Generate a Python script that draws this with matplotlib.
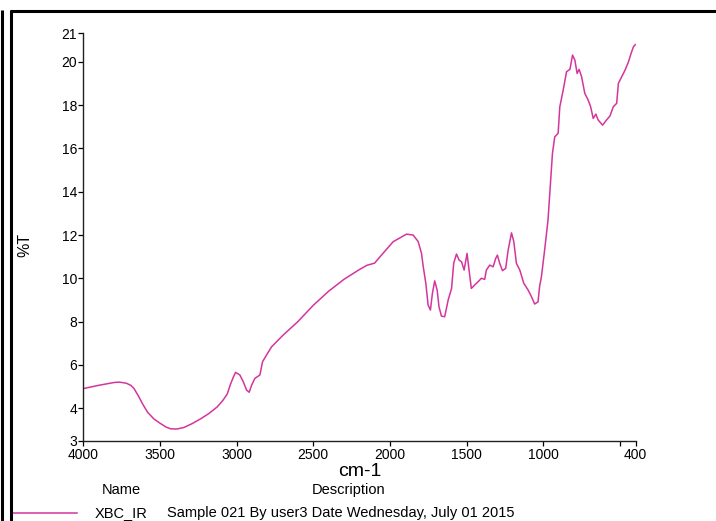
import matplotlib as mpl
mpl.use('Agg')
import matplotlib.pyplot as plt
from matplotlib.lines import Line2D

plt.rcParams['font.family'] = ['Liberation Sans', 'DejaVu Sans']

# IR spectrum, wavenumber (cm-1) vs %T
wavenumber = [4000, 3900, 3800, 3767, 3720, 3690, 3669, 3640, 3610, 3580, 3540, 3500,
              3460, 3430, 3390, 3344, 3290, 3235, 3180, 3127, 3090, 3061, 3040, 3020,
              3007, 2979, 2957, 2935, 2918, 2902, 2881, 2848, 2831,
              2805, 2772, 2729, 2700, 2600, 2500, 2400, 2300, 2200, 2150, 2100, 2064,
              1979, 1892, 1849, 1816, 1794, 1784, 1766, 1751, 1736, 1723, 1708, 1692,
              1680, 1664, 1643, 1620, 1598, 1584, 1566, 1549, 1533, 1516, 1497, 1484,
              1469, 1447, 1425, 1403, 1382, 1371, 1349, 1327, 1310, 1299, 1284, 1266,
              1245, 1229, 1207, 1192, 1175, 1153, 1127, 1099, 1077, 1056, 1034, 1024,
              1012, 991, 969, 953, 940, 925, 903, 892, 870, 848, 826, 809, 794, 779,
              766, 750, 729, 707, 691, 674, 657, 642, 613, 587, 565, 543, 521, 510,
              488, 466, 444, 427, 412, 400]
transmittance = [4.9, 5.05, 5.18, 5.2, 5.15, 5.05, 4.9, 4.55, 4.15, 3.8, 3.5, 3.3,
                 3.12, 3.04, 3.03, 3.1, 3.28, 3.5, 3.75, 4.05, 4.35, 4.65, 5.1, 5.45,
                 5.65, 5.53, 5.22, 4.83, 4.73, 5.06, 5.37, 5.53, 6.14,
                 6.45, 6.83, 7.14, 7.35, 8.0, 8.75, 9.4, 9.95, 10.4, 10.6, 10.7, 11.0,
                 11.69, 12.04, 12.0, 11.7, 11.15, 10.6, 9.77, 8.76, 8.53, 9.3, 9.88, 9.45,
                 8.68, 8.25, 8.22, 9.0, 9.53, 10.7, 11.12, 10.84, 10.76, 10.38, 11.15, 10.38,
                 9.53, 9.69, 9.84, 10.0, 9.95, 10.38, 10.61, 10.53, 10.92, 11.07, 10.69, 10.35,
                 10.46, 11.3, 12.1, 11.69, 10.69, 10.38, 9.77, 9.46, 9.15, 8.81, 8.91, 9.61,
                 10.07, 11.3, 12.69, 14.39, 15.77, 16.54, 16.7, 17.93, 18.7, 19.55, 19.66, 20.32, 20.09, 19.47,
                 19.66, 19.32, 18.55, 18.24, 17.93, 17.39, 17.59, 17.32, 17.08, 17.32, 17.5, 17.93, 18.09, 19.01,
                 19.32, 19.63, 20.01, 20.4, 20.7, 20.8]

x_range = (4000, 397)
y_range = (2.49, 21.34)
x_ticks = [4000, 3500, 3000, 2500, 2000, 1500, 1000, 500, 397]
x_tick_labels = ['4000', '3500', '3000', '2500', '2000', '1500', '1000', '', '400']
y_ticks = [2.49, 4, 6, 8, 10, 12, 14, 16, 18, 20, 21.34]
y_tick_labels = ['3', '4', '6', '8', '10', '12', '14', '16', '18', '20', '21']

sample_name = 'XBC_IR'
sample_desc = 'Sample 021 By user3 Date Wednesday, July 01 2015'
line_color = '#d4359c'

W, H = 716, 521
fig = plt.figure(figsize=(W / 100, H / 100), dpi=100)
ax = fig.add_axes([83.3 / W, 1 - 440.7 / H, 552.4 / W, 407.7 / H])

ax.plot(wavenumber, transmittance, color=line_color, lw=1.1)

ax.set_xlim(*x_range)
ax.set_ylim(*y_range)
ax.set_xticks(x_ticks)
ax.set_xticklabels(x_tick_labels)
ax.set_yticks(y_ticks)
ax.set_yticklabels(y_tick_labels)
ax.tick_params(direction='out', length=3.5, width=0.9, pad=1, labelsize=10, colors='black')
ax.tick_params(axis='x', pad=2)

for side in ('top', 'right'):
    ax.spines[side].set_visible(False)
for side in ('left', 'bottom'):
    ax.spines[side].set_linewidth(1.0)
    ax.spines[side].set_color('#202020')

# axis titles
fig.text(359.5 / W, 1 - 471 / H, 'cm-1', fontsize=14, ha='center', va='center')
fig.text(25 / W, 1 - 245 / H, '%T', fontsize=11.5, rotation=90, ha='center', va='center')

# legend table under the plot
fig.text(121 / W, 1 - 490 / H, 'Name', fontsize=10.5, ha='center', va='center')
fig.text(349 / W, 1 - 490 / H, 'Description', fontsize=10.5, ha='center', va='center')
fig.add_artist(Line2D([12 / W, 77 / W], [1 - 513 / H, 1 - 513 / H],
                      color=line_color, lw=1.1, transform=fig.transFigure))
fig.text(95 / W, 1 - 513 / H, sample_name, fontsize=10.5, ha='left', va='center')
fig.text(167 / W, 1 - 513 / H, sample_desc, fontsize=10.5, ha='left', va='center')

# window frame
frame = dict(color='black', lw=2.2, transform=fig.transFigure, solid_capstyle='butt')
fig.add_artist(Line2D([2 / W, 2 / W], [0, 1 - 10 / H], **frame))
fig.add_artist(Line2D([10.5 / W, 10.5 / W], [0, 1 - 10 / H], **frame))
fig.add_artist(Line2D([9.5 / W, 1], [1 - 11.3 / H, 1 - 11.3 / H], **frame))

fig.savefig('out.png', dpi=100)
